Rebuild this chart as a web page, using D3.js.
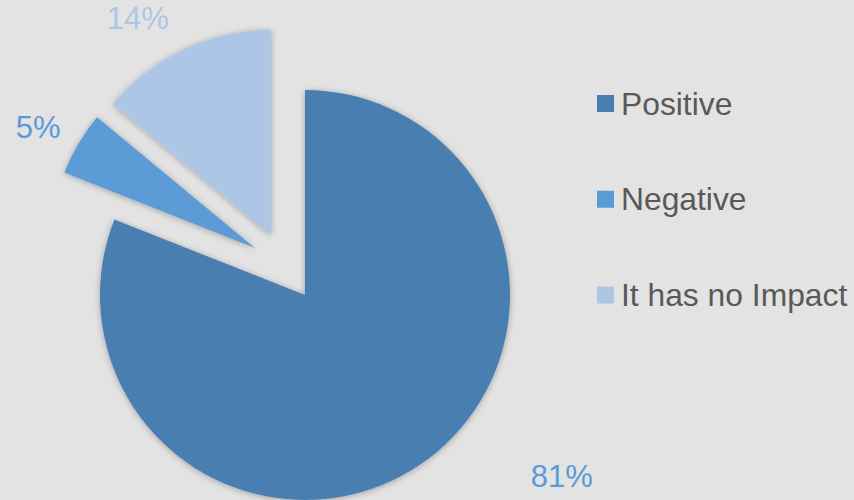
<!DOCTYPE html>
<html>
<head>
<meta charset="utf-8">
<script src="https://cdn.jsdelivr.net/npm/d3@7"></script>
<style>
  html, body { margin: 0; padding: 0; background: #e3e3e3; }
  svg { display: block; }
  text { font-family: "Liberation Sans", Arial, sans-serif; }
</style>
</head>
<body>
<svg id="chart" width="854" height="500"></svg>
<script>
// Survey answers and their shares (%)
const categories = ["Positive", "Negative", "It has no Impact"];
const values = [81, 5, 14];
const valueLabels = ["81%", "5%", "14%"];

// Styling / layout
const colors = ["#4a7eb0", "#5b9bd5", "#adc6e6"];
const labelColors = ["#5b9bd5", "#5b9bd5", "#adc6e6"];
const explodeOffset = [[0, 0], [-50, -47], [-34, -60]]; // pulled-out slices
const labelNudge = [[119, -11], [-6, 15], [-29, 16]];

const W = 854, H = 500;
const cx = 305, cy = 295, radius = 205;

const svg = d3.select("#chart");

svg.append("rect").attr("width", W).attr("height", H).attr("fill", "#e3e3e3");

// soft shadow under slices
const defs = svg.append("defs");
const f = defs.append("filter").attr("id", "shadow")
  .attr("x", "-20%").attr("y", "-20%").attr("width", "140%").attr("height", "140%");
f.append("feDropShadow").attr("dx", 0).attr("dy", 1)
  .attr("stdDeviation", 3).attr("flood-color", "#000").attr("flood-opacity", 0.3);

const pie = d3.pie().sort(null).value(d => d).startAngle(0).endAngle(2 * Math.PI);
const arcs = pie(values);
const arc = d3.arc().innerRadius(0).outerRadius(radius);

const g = svg.append("g").attr("transform", `translate(${cx},${cy})`);

g.selectAll("path.slice")
  .data(arcs)
  .join("path")
  .attr("class", "slice")
  .attr("d", arc)
  .attr("fill", (d, i) => colors[i])
  .attr("filter", "url(#shadow)")
  .attr("transform", (d, i) => `translate(${explodeOffset[i][0]},${explodeOffset[i][1]})`);

// value labels outside the slices
const labelArc = d3.arc().innerRadius(radius + 40).outerRadius(radius + 40);
g.selectAll("text.val")
  .data(arcs)
  .join("text")
  .attr("class", "val")
  .attr("text-anchor", "middle")
  .attr("font-size", 31)
  .attr("fill", (d, i) => labelColors[i])
  .attr("x", (d, i) => labelArc.centroid(d)[0] + explodeOffset[i][0] + labelNudge[i][0])
  .attr("y", (d, i) => labelArc.centroid(d)[1] + explodeOffset[i][1] + labelNudge[i][1])
  .text((d, i) => valueLabels[i]);

// legend
const legendY = d3.scalePoint().domain(categories).range([103.5, 295]);
const lg = svg.append("g").attr("transform", "translate(597,0)");
const items = lg.selectAll("g.item").data(categories).join("g")
  .attr("class", "item")
  .attr("transform", d => `translate(0,${legendY(d)})`);
items.append("rect")
  .attr("x", 0).attr("y", -8.5).attr("width", 17).attr("height", 17)
  .attr("fill", (d, i) => colors[i]);
items.append("text")
  .attr("x", 24).attr("y", 11)
  .attr("font-size", 31.8)
  .attr("fill", "#595959")
  .text(d => d);
</script>
</body>
</html>
